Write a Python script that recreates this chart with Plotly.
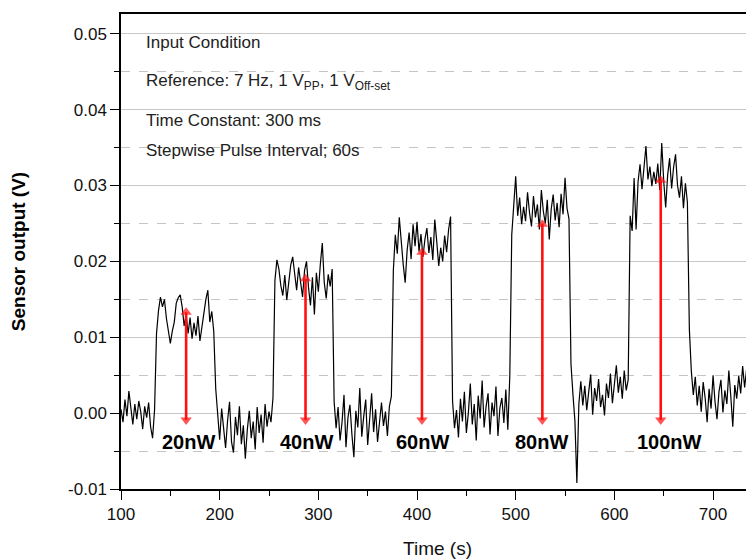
import plotly.graph_objects as go

# ---- data (signal in mV, sampled every 2 s from 100 s to 742 s) ----
time_s = list(range(100, 743, 2))

base_a = [0.5, -1.2, 1.8, -0.4, 2.9, 0.3, -1.5, 1.2, -0.8, 1.6, 0.2, -2.1, 0.9, -0.6, 1.4, -1.8, -3.3, 0.4]
pulse_1 = [10.5, 13.5, 15.3, 14.0, 15.0, 12.5, 11.0, 9.2, 10.8, 12.0, 14.5, 15.2, 15.6, 14.0, 11.5,
           13.0, 10.5, 12.6, 9.8, 11.9, 10.2, 12.8, 9.5, 11.3, 13.6, 15.0, 16.2, 12.0, 13.4, 10.8]
base_b = [3.2, -0.8, -3.5, 0.6, -2.4, -4.6, -1.0, 1.5, -3.8, -5.2, -0.5, -2.9, 0.9, -4.1, -1.6,
          -6.0, -2.2, 0.3, -3.3, -1.1, -4.8, 0.8, -2.6, -0.2, -3.9, 1.2, -1.8, 0.2, -1.2, 2.0]
pulse_2 = [17.5, 20.2, 19.0, 16.8, 15.5, 18.2, 14.9, 17.0, 19.5, 20.6, 18.0, 16.2, 19.2, 17.4, 15.3,
           18.8, 20.0, 16.6, 14.2, 17.9, 13.0, 18.5, 16.0, 19.6, 22.4, 17.2, 15.1, 18.3, 16.7, 19.0]
base_c = [1.5, -2.0, 0.8, -3.6, -1.2, 2.4, -4.5, -0.6, 1.1, -2.8, -5.8, 0.3, -1.9, 3.3, -3.1,
          -0.4, 1.8, -4.2, -1.0, 2.6, -2.5, 0.5, -3.8, -0.9, 1.4, -1.7, 0.2, -3.0, 0.9, 2.2]
pulse_3 = [18.8, 23.5, 21.0, 25.8, 22.4, 19.6, 17.2, 21.5, 23.8, 20.3, 24.9, 22.0, 25.2, 21.3, 23.6,
           20.6, 22.9, 24.4, 21.1, 23.2, 20.2, 25.5, 22.6, 19.4, 21.8, 20.0, 23.4, 21.2, 24.2, 25.9]
base_d = [1.6, -2.0, 0.4, -3.2, 1.9, -1.1, 2.8, -2.6, 0.0, 3.9, -1.5, 1.2, -3.6, 2.3, -0.7,
          4.3, -1.9, 0.9, 2.6, -2.8, 1.4, -0.4, 3.5, -3.0, 0.7, 2.0, -1.3, 3.1, -2.2, 4.8]
pulse_4 = [23.5, 27.8, 31.2, 26.0, 28.4, 24.9, 27.2, 25.3, 29.1, 26.4, 24.6, 28.6, 25.8, 27.5, 24.2,
           29.4, 26.6, 25.0, 28.1, 22.9, 26.9, 28.8, 25.4, 27.7, 24.5, 28.9, 26.2, 31.0, 27.0, 25.6]
base_e = [6.5, 2.5, -1.0, -9.2, 1.2, 4.2, 1.0, 3.6, 0.4, 2.8, 5.1, -0.2, 3.3, 1.6, 4.5,
          0.8, 2.4, -0.3, 3.9, 2.0, 5.2, 1.3, 4.0, 6.3, 2.7, 4.8, 1.9, 5.6, 3.0, 4.4]
pulse_5 = [26.0, 24.0, 31.0, 24.2, 30.5, 32.8, 29.5, 33.0, 35.2, 30.8, 32.5, 29.9, 31.8, 30.2, 32.9,
           29.4, 35.6, 30.6, 27.1, 31.4, 33.6, 29.6, 32.4, 34.1, 30.0, 28.4, 31.2, 27.0, 30.3, 27.8]
base_f = [11.0, 5.5, 2.4, 4.8, 1.0, 3.6, 0.2, 4.1, 2.0, -1.2, 3.2, 0.6, 5.0, 1.5, -0.8, 2.8, 4.4,
          0.1, 3.0, 1.2, 5.6, 2.2, -1.8, 3.7, 1.9, 4.9, 2.6, 6.2, 3.4, 5.8, 0.5, 4.6, 6.6, 3.9]

signal_mv = (base_a + pulse_1 + base_b + pulse_2 + base_c + pulse_3 + base_d
             + pulse_4 + base_e + pulse_5 + base_f)
signal_v = [v / 1000.0 for v in signal_mv]

# double-headed arrows: x position, upper head level, lower head level (V)
arrow_x = [166, 287, 405, 527, 647]
arrow_top = [0.0133, 0.0177, 0.0212, 0.0249, 0.0307]
arrow_bottom = [-0.0009, -0.0009, -0.0009, -0.0009, -0.0009]

power_labels = ["20nW", "40nW", "60nW", "80nW", "100nW"]
label_x = [168, 288, 406, 526, 656]
label_y = -0.0038

y_tick_vals = [-0.01, 0.0, 0.01, 0.02, 0.03, 0.04, 0.05]
y_tick_text = ["-0.01", "0.00", "0.01", "0.02", "0.03", "0.04", "0.05"]

info_lines = [
    "Input Condition",
    "Reference: 7 Hz, 1 V<sub>PP</sub>, 1 V<sub>Off-set</sub>",
    "Time Constant: 300 ms",
    "Stepwise Pulse Interval; 60s",
]
info_y = [0.939, 0.857, 0.775, 0.713]

FONT = "Liberation Sans, Arial, sans-serif"
RED = "#ff1010"

fig = go.Figure()
fig.add_trace(go.Scatter(x=time_s, y=signal_v, mode="lines",
                         line=dict(color="black", width=1.2), showlegend=False,
                         hoverinfo="skip"))

for xa, yt, yb in zip(arrow_x, arrow_top, arrow_bottom):
    fig.add_trace(go.Scatter(x=[xa, xa], y=[yb, yt], mode="lines+markers",
                             line=dict(color=RED, width=2.6),
                             marker=dict(symbol=["triangle-down", "triangle-up"], size=[10, 10],
                                         color=RED, line=dict(width=0)),
                             showlegend=False, hoverinfo="skip"))

annotations = []
for lx, lab in zip(label_x, power_labels):
    annotations.append(dict(x=lx, y=label_y, xref="x", yref="y", text="<b>%s</b>" % lab,
                            showarrow=False, font=dict(family=FONT, size=20, color="black")))
for txt, yy in zip(info_lines, info_y):
    annotations.append(dict(x=0.037, y=yy, xref="paper", yref="paper", text=txt,
                            showarrow=False, xanchor="left", yanchor="middle",
                            font=dict(family=FONT, size=17, color="#222222")))

# page body adds an 8 px offset, so the figure is sized 746x551 to fill a 754x559 view
fig.update_layout(
    width=746, height=551,
    margin=dict(l=113, r=0, t=6, b=70),
    paper_bgcolor="white", plot_bgcolor="white",
    font=dict(family=FONT, size=16, color="black"),
    annotations=annotations,
    showlegend=False,
)
fig.update_xaxes(
    range=[100, 741.5], tickmode="linear", tick0=100, dtick=100,
    ticks="outside", ticklen=9, tickwidth=1, tickcolor="black",
    showgrid=False, zeroline=False, automargin=False,
    showline=True, linecolor="black", linewidth=1.5, mirror=True,
    minor=dict(dtick=50, ticks="outside", ticklen=5, tickcolor="black", showgrid=False),
    tickfont=dict(family=FONT, size=17, color="#111111"),
    title=dict(text="Time (s)", font=dict(family=FONT, size=19, color="#111111"), standoff=20),
)
fig.update_yaxes(
    range=[-0.01, 0.0526], tickmode="array", tickvals=y_tick_vals, ticktext=y_tick_text,
    ticks="outside", ticklen=9, tickwidth=1, tickcolor="black",
    showgrid=True, gridcolor="#c8c8c8", gridwidth=1,
    zeroline=False, automargin=False,
    showline=True, linecolor="black", linewidth=1.5, mirror=False,
    minor=dict(dtick=0.005, tick0=0.005, ticks="outside", ticklen=5, tickcolor="black",
               showgrid=True, gridcolor="#c4c4c4", griddash="dash", gridwidth=1),
    tickfont=dict(family=FONT, size=17, color="#111111"),
    title=dict(text="<b>Sensor output (V)</b>", font=dict(family=FONT, size=19, color="black"),
               standoff=38),
)

fig.write_html("out.html")
